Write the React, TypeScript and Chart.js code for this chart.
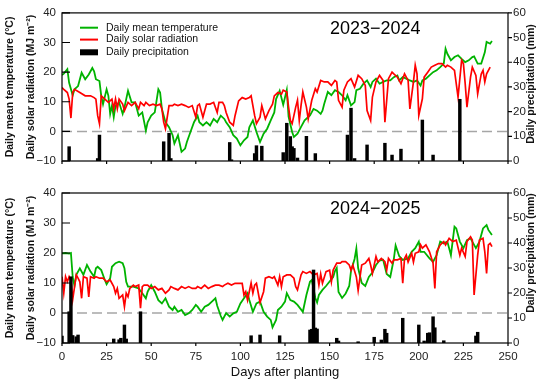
import React, { useEffect, useRef } from "react";
import { Chart, registerables } from "chart.js";
Chart.register(...registerables);

const FONT = "'Liberation Sans', Arial, Helvetica, sans-serif";
const GREEN = "#00b300";
const RED = "#ff0000";

// ---------- 2023-2024 ----------
const TEMP_DAYS_1 = [0,1,3,4,6,7,9,11,13,15,17,18,19,21,22,23,25,26,27,28,29,30,32,34,35,37,39,41,43,45,47,48,50,52,54,55,56,58,60,62,63,65,67,69,70,72,74,76,77,79,81,83,85,87,89,91,92,94,96,98,100,102,104,105,107,109,111,113,115,117,119,120,122,124,126,127,129,130,132,134,136,139,141,143,145,146,147,149,151,153,155,157,159,160,162,164,165,167,169,171,173,174,176,178,180,182,184,186,188,189,191,193,195,197,199,201,202,204,206,208,210,212,214,215,216,218,220,222,224,226,228,230,231,233,235,237,238,240,241];
const TEMP_1 = [19,19.5,21,16.4,12.2,14.2,15.3,19.8,17.6,19.2,21.4,20.3,17.6,17,12,9.2,14.2,12,5.9,8.7,4.8,8.7,9.8,5.9,8.1,13.7,9.8,9.8,5.3,6.4,0.3,3.1,5.3,6.4,14.2,13.1,7.6,3.1,1.4,-1.3,-4.1,-1.3,-6.9,-5.8,-3.6,-0.2,3.1,5.3,3.1,2,3.1,2,4.2,3.1,5.3,4.2,3.1,1.4,-1.3,-2.4,-4.7,-3,-1.9,1.4,3.7,-0.2,-3.6,-0.8,0.9,3.7,6.4,10.9,13.7,9,14,5,-0.2,-1.9,-0.8,1.5,3.7,5.4,7.6,7,5.9,7,9.3,13.3,12.2,13.9,13.3,12.2,10.5,12.2,8.8,9.9,13.9,14.4,16.1,17.2,15,16.7,17.8,16.1,16.7,17.2,17.2,18.3,18.9,17.2,18.3,17.8,17.2,16.7,17.2,15.5,17.2,17.8,18.9,20,20.6,21.7,22.9,27.9,26.2,24,25.1,25.7,24.5,23.4,24,25.1,25.3,22.9,22.9,26.7,30.2,29.6,30.5];

const RAD_DAYS_1 = [0,1,3,4,5,6,7,10,13,16,18,19,20,21,22,24,26,28,29,30,31,32,34,35,37,39,41,43,44,46,47,49,51,53,55,56,57,58,60,62,63,65,67,69,71,73,75,76,77,79,81,83,85,87,88,90,91,92,94,96,97,99,101,103,105,106,108,109,111,112,114,116,118,119,121,123,124,126,127,128,129,131,132,133,134,135,137,138,140,142,143,145,147,149,151,153,154,155,157,158,160,162,164,166,168,170,171,173,174,176,178,180,181,183,185,186,188,190,192,194,195,197,198,199,200,202,203,205,207,209,211,213,215,216,218,220,222,224,225,226,227,229,230,232,233,235,236,237,238,240];
const RAD_1 = [14.8,14.2,13.1,10.9,4.5,13.1,14.2,13.1,12,12,11.4,10.9,5.3,2.6,12,10.9,9.8,10.9,7.6,10.9,7.6,10.9,9.2,7,9.8,8.7,9.8,7.6,9.8,8.7,9.8,8.7,9.2,8.7,9.2,7.6,3.1,0.9,8.7,8.7,9.2,8.7,9.2,8.7,8.1,8.7,4.8,8.7,9.2,4.8,9.2,9.2,9.8,6.4,9.8,9.8,8.7,6.4,3.1,2,5.3,10.3,11.4,10.9,11.4,12,5.3,2.6,4.8,8.7,4.2,7,9.2,12,13.1,12.6,13.9,13.3,8.2,3.7,2.6,8.2,10.5,3.7,8.8,13.3,8.2,4.2,10.5,14.4,13.3,17.2,16.7,16.7,15.5,17.2,16.7,10.5,8.2,13.9,16.7,17.8,15,18.9,17.8,15.5,7,3.7,11.6,16.7,18.9,17.2,3.1,17.8,20,19.4,18.3,16.1,19.4,17.2,7.6,16.7,22.3,19.4,5.4,11,18.3,20,21.7,22.3,22.9,22.9,21.7,22.3,21.7,20.6,11.6,24,22.9,16.1,8.2,18.3,21.7,18.9,12.7,19.4,20.6,16.7,19.4,21.7];

const RAIN_DAYS_1 = [4,20,21,57,60,61,94,95,108,109,112,124,126,128,129,130,132,137,142,160,162,164,171,181,185,190,202,208,223];
const RAIN_1 = [5.8,1,10.5,7.8,11.2,1,7.5,0.5,3,6.2,6,3.4,15.3,9.9,5.8,5.1,1.2,10,3,10.5,21.4,1,6.5,7.2,2.4,4.8,16.6,2.4,25];

// ---------- 2024-2025 ----------
const TEMP_DAYS_2 = [0,2,4,5,6,7,8,10,12,14,16,18,19,20,22,24,25,27,28,30,32,34,35,36,37,40,43,45,47,48,50,52,54,56,58,60,62,63,65,67,69,71,73,75,76,78,80,82,84,86,87,89,90,92,94,96,98,100,102,104,105,107,109,111,113,115,117,118,120,121,123,125,126,128,130,132,135,137,139,140,141,142,143,144,146,148,150,152,153,154,155,157,159,161,162,164,165,166,168,170,172,174,176,178,180,182,184,186,187,189,191,194,196,198,200,201,203,206,208,210,212,214,216,217,218,220,221,223,225,227,229,230,232,234,236,238,239,241];
const TEMP_2 = [19.9,20,19.8,20,12,9,12.7,14.9,12.7,16,13.8,12.1,14.9,15.4,14.3,11,9.6,11.6,15.4,16.6,17.1,16.6,14.9,10.4,8.8,8.8,8.2,6.6,4.9,7.1,9.3,7.1,4.3,3.2,4.9,2.1,1,2.1,0.4,1,-0.7,-0.1,1,2.7,2.1,0.4,2.1,2.7,3.8,4.9,2.4,-1,-2.3,0,-1.2,-0.1,0.4,3.2,4.9,6.6,4.3,0.4,3.2,3.8,0.4,-1.2,-2.3,-4.8,-2.3,1,2.1,3.8,6.6,4.3,3.8,2.7,0.4,6,10.4,11,8,5,3.5,6,7.7,9,10.5,12,14,15,7,5,6.5,9,14,18,21.5,15,10,9,12,13.5,16,17.5,17.7,13,12,18,22.5,19,17.7,18.2,20.4,21.6,23.8,20.4,20.4,18.2,17.1,19.3,23.8,23.2,23.8,21.6,19.3,28.8,28.2,23.8,21.6,24.3,24.9,23.8,21.6,23.8,28.2,29.3,27.7,26];

const RAD_DAYS_2 = [0,1,2,3,4,5,6,8,9,10,11,12,14,15,16,18,19,21,23,25,27,29,30,31,32,34,35,36,37,38,40,41,43,44,45,46,48,50,52,54,56,58,60,61,63,65,67,69,71,73,75,76,78,80,82,84,86,88,90,91,93,95,97,99,101,102,103,104,106,107,108,109,111,113,114,116,118,119,121,122,123,124,126,128,130,131,132,134,135,137,139,141,143,144,145,146,148,150,151,152,154,156,157,159,161,162,163,165,166,168,170,172,173,174,176,177,179,181,182,183,185,186,188,190,191,192,193,194,196,197,198,200,201,202,204,206,208,209,210,212,214,215,217,219,221,223,224,226,227,229,230,231,233,234,236,237,238,239,240,241];
const RAD_2 = [12.1,6.6,12.1,10.4,12.1,11,4.5,12.7,11.6,10.4,4.9,12.1,11.6,5.4,12.1,11.6,12.1,11.6,11.6,10.4,11,8.8,6.6,8.2,4.9,6,2.1,6.6,5.4,8.2,9.3,8.8,9.3,1.6,8.8,9.3,9.3,8.2,8.8,7.7,8.2,6.6,7.7,8.8,8.2,7.7,8.8,8.2,8.8,8.2,8.2,8.8,8.2,9.3,8.2,8.8,9.3,9.3,8.8,9.3,9.9,9.3,9.9,9.9,9.9,6,7.1,4.3,10,6.6,9.3,9.9,3.5,7.1,11.6,12.1,11.6,12.1,9.3,12.1,8.8,12.1,12.7,12.7,11.6,8.8,7.7,12.7,13.8,13.2,13.8,12.7,13.2,9.3,13,9.9,13.8,14.3,10.4,14.3,16.6,16.6,17.1,17.1,16,14.3,16,12,7.5,16,16.6,18.2,16,13.2,18.8,17,18.2,17.1,14.3,18.2,16.6,17.7,17.7,18.2,9.9,18.2,19.3,17,19.9,17,19.9,20.4,22.7,21.6,22.7,20.4,16.6,8.2,20.4,22.7,23.8,22.7,24.9,23.8,24.3,19.3,21.6,18.8,23.8,25.4,24.3,6,19.3,24.3,24.9,20.4,13.2,22.7,23.2,22.1];

const RAIN_DAYS_2 = [0,4,5,6,8,9,29,32,33,35,36,44,106,111,122,139,140,141,142,143,154,155,166,175,179,181,182,191,200,203,205,206,208,209,214,232,233];
const RAIN_2 = [2.8,12.5,26.5,3,2.5,3.2,1.6,1.3,1.9,7.2,1.6,12.5,2.9,3.2,2.9,5.2,5.5,29.2,6,5.6,1.9,0.8,0.5,2.3,1.2,5.5,3.9,9.9,7.2,0.8,3.9,4.1,10.5,6.1,0.9,2.8,4.3];

const LEFT_TICKS = [-10, 0, 10, 20, 30, 40];
const RIGHT_TICKS = [0, 10, 20, 30, 40, 50, 60];
const X_TICKS = [0, 25, 50, 75, 100, 125, 150, 175, 200, 225, 250];

const pts = (xs: number[], ys: number[]) => xs.map((x, i) => ({ x, y: ys[i] }));

type PanelProps = {
  top: number;
  height: number;
  areaTop: number;
  areaBottom: number;
  title: string;
  titleY: number;
  rightTitleY: number;
  showX: boolean;
  legend: boolean;
  tDays: number[]; tVals: number[];
  rDays: number[]; rVals: number[];
  pDays: number[]; pVals: number[];
};

function Panel(p: PanelProps) {
  const ref = useRef<HTMLCanvasElement>(null);
  useEffect(() => {
    const canvas = ref.current!;
    const plugin = {
      id: "panelDeco",
      beforeDatasetsDraw(chart: any) {
        const { ctx, chartArea: a, scales } = chart;
        const y0 = scales.y.getPixelForValue(0);
        ctx.save();
        ctx.strokeStyle = "#a6a6a6";
        ctx.lineWidth = 1.5;
        ctx.setLineDash([10, 5]);
        ctx.beginPath();
        ctx.moveTo(a.left, y0);
        ctx.lineTo(a.right, y0);
        ctx.stroke();
        ctx.restore();
      },
      afterDraw(chart: any) {
        const { ctx, chartArea: a, scales } = chart;
        ctx.save();
        ctx.strokeStyle = "#000";
        ctx.lineWidth = 1.2;
        ctx.strokeRect(a.left, a.top, a.right - a.left, a.bottom - a.top);
        ctx.beginPath();
        LEFT_TICKS.forEach((v) => {
          const y = scales.y.getPixelForValue(v);
          ctx.moveTo(a.left, y);
          ctx.lineTo(a.left + 8, y);
        });
        RIGHT_TICKS.forEach((v) => {
          const y = scales.y2.getPixelForValue(v);
          ctx.moveTo(a.right, y);
          ctx.lineTo(a.right + 4, y);
        });
        X_TICKS.forEach((v) => {
          const x = scales.x.getPixelForValue(v);
          ctx.moveTo(x, a.bottom);
          ctx.lineTo(x, a.bottom + 3);
        });
        ctx.stroke();
        const cy = (a.top + a.bottom) / 2;
        ctx.fillStyle = "#111";
        ctx.font = `bold 10.5px ${FONT}`;
        ctx.textAlign = "center";
        ctx.textBaseline = "middle";
        ctx.save();
        ctx.translate(10, cy);
        ctx.rotate(-Math.PI / 2);
        ctx.fillText("Daily mean temperature (\u00B0C)", 0, 0);
        ctx.restore();
        ctx.save();
        ctx.translate(31, cy);
        ctx.rotate(-Math.PI / 2);
        ctx.fillText("Daily solar radiation (MJ m\u207B\u00B2)", 0, 0);
        ctx.restore();
        ctx.save();
        ctx.translate(531, p.rightTitleY);
        ctx.rotate(-Math.PI / 2);
        ctx.fillText("Daily precipitation (mm)", 0, 0);
        ctx.restore();
        ctx.font = `18px ${FONT}`;
        ctx.textAlign = "left";
        ctx.fillStyle = "#000";
        ctx.fillText(p.title, 330, p.titleY);
        if (p.legend) {
          ctx.font = `10.5px ${FONT}`;
          const rows = [
            { y: 27.7, kind: "line", color: GREEN, text: "Daily mean temperature" },
            { y: 39.6, kind: "line", color: RED, text: "Daily solar radiation" },
            { y: 52.3, kind: "bar", color: "#000", text: "Daily precipitation" },
          ];
          rows.forEach((r) => {
            if (r.kind === "line") {
              ctx.strokeStyle = r.color;
              ctx.lineWidth = 2;
              ctx.beginPath();
              ctx.moveTo(80, r.y);
              ctx.lineTo(98, r.y);
              ctx.stroke();
            } else {
              ctx.fillStyle = r.color;
              ctx.fillRect(80, r.y - 3, 18, 6);
            }
            ctx.fillStyle = "#111";
            ctx.fillText(r.text, 106, r.y);
          });
        }
        if (p.showX) {
          ctx.font = `13px ${FONT}`;
          ctx.textAlign = "center";
          ctx.fillStyle = "#111";
          ctx.fillText("Days after planting", (a.left + a.right) / 2, 372 - p.top);
        }
        ctx.restore();
      },
    };

    const tickFont = { size: 11.5, family: FONT };
    const chart = new Chart(canvas, {
      type: "line",
      data: {
        datasets: [
          {
            label: "Daily mean temperature",
            data: pts(p.tDays, p.tVals),
            yAxisID: "y",
            borderColor: GREEN,
            backgroundColor: GREEN,
            borderWidth: 1.8,
            pointRadius: 0,
            tension: 0,
            fill: false,
            order: 3,
          },
          {
            label: "Daily solar radiation",
            data: pts(p.rDays, p.rVals),
            yAxisID: "y",
            borderColor: RED,
            backgroundColor: RED,
            borderWidth: 1.7,
            pointRadius: 0,
            tension: 0,
            fill: false,
            order: 2,
          },
          {
            type: "bar",
            label: "Daily precipitation",
            data: pts(p.pDays, p.pVals),
            yAxisID: "y2",
            backgroundColor: "#000",
            borderWidth: 0,
            barThickness: 2.8,
            order: 1,
          } as any,
        ],
      },
      options: {
        responsive: false,
        animation: false,
        devicePixelRatio: 1,
        events: [],
        layout: { padding: { top: p.areaTop, left: 0, right: 0, bottom: 0 } },
        plugins: { legend: { display: false }, tooltip: { enabled: false } },
        scales: {
          x: {
            type: "linear",
            position: "bottom",
            min: 0,
            max: 250,
            offset: false,
            grid: { display: false, drawTicks: false },
            border: { display: false },
            ticks: {
              display: p.showX,
              stepSize: 25,
              autoSkip: false,
              maxRotation: 0,
              font: tickFont,
              color: "#222",
              padding: 7,
            },
            afterFit: (s: any) => {
              s.height = p.height - p.areaBottom;
            },
          },
          y: {
            type: "linear",
            position: "left",
            min: -10,
            max: 40,
            grid: { display: false, drawTicks: false },
            border: { display: false },
            ticks: {
              stepSize: 10,
              font: tickFont,
              color: "#222",
              padding: 6,
              callback: (v: any) => String(v).replace("-", "\u2212"),
            },
            afterFit: (s: any) => {
              s.width = 62;
            },
          },
          y2: {
            type: "linear",
            position: "right",
            min: 0,
            max: 60,
            grid: { display: false, drawTicks: false },
            border: { display: false },
            ticks: { stepSize: 10, font: tickFont, color: "#222", padding: 5 },
            afterFit: (s: any) => {
              s.width = 42;
            },
          },
        },
      } as any,
      plugins: [plugin],
    });
    return () => chart.destroy();
  }, []);
  return (
    <canvas
      ref={ref}
      width={550}
      height={p.height}
      style={{ position: "absolute", left: 0, top: p.top, width: 550, height: p.height }}
    />
  );
}

export default function App() {
  return (
    <div style={{ position: "absolute", left: 0, top: 0, width: 550, height: 388, background: "#fff", overflow: "hidden" }}>
      <Panel
        top={0}
        height={176}
        areaTop={12}
        areaBottom={161}
        title={"2023\u22122024"}
        titleY={29}
        rightTitleY={84}
        showX={false}
        legend={true}
        tDays={TEMP_DAYS_1} tVals={TEMP_1}
        rDays={RAD_DAYS_1} rVals={RAD_1}
        pDays={RAIN_DAYS_1} pVals={RAIN_1}
      />
      <Panel
        top={176}
        height={212}
        areaTop={17}
        areaBottom={167}
        title={"2024\u22122025"}
        titleY={33}
        rightTitleY={77}
        showX={true}
        legend={false}
        tDays={TEMP_DAYS_2} tVals={TEMP_2}
        rDays={RAD_DAYS_2} rVals={RAD_2}
        pDays={RAIN_DAYS_2} pVals={RAIN_2}
      />
    </div>
  );
}
